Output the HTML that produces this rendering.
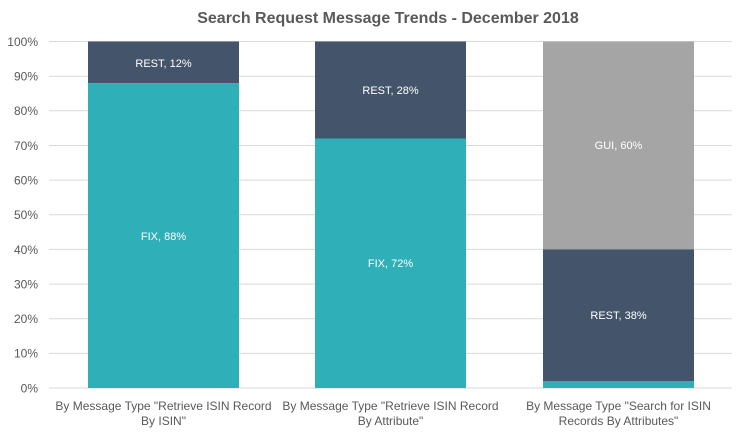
<!DOCTYPE html>
<html><head><meta charset="utf-8"><style>
html,body{margin:0;padding:0;background:#fff;}
svg{display:block;font-family:"Liberation Sans",sans-serif;}
</style></head><body>
<svg width="747" height="435" viewBox="0 0 747 435" xmlns="http://www.w3.org/2000/svg">
<rect width="747" height="435" fill="#fff"/>
<text x="388" y="23" text-anchor="middle" font-size="16" font-weight="bold" fill="#595959">Search Request Message Trends - December 2018</text>
<g stroke="#d9d9d9" stroke-width="1">
<line x1="49" x2="732" y1="41.5" y2="41.5"/>
<line x1="49" x2="732" y1="76.2" y2="76.2"/>
<line x1="49" x2="732" y1="110.8" y2="110.8"/>
<line x1="49" x2="732" y1="145.5" y2="145.5"/>
<line x1="49" x2="732" y1="180.1" y2="180.1"/>
<line x1="49" x2="732" y1="214.8" y2="214.8"/>
<line x1="49" x2="732" y1="249.4" y2="249.4"/>
<line x1="49" x2="732" y1="284.1" y2="284.1"/>
<line x1="49" x2="732" y1="318.7" y2="318.7"/>
<line x1="49" x2="732" y1="353.4" y2="353.4"/>
<line x1="49" x2="732" y1="388" y2="388"/>
</g>
<g font-size="12" fill="#595959" text-anchor="end">
<text x="38" y="46">100%</text>
<text x="38" y="80.5">90%</text>
<text x="38" y="115">80%</text>
<text x="38" y="150">70%</text>
<text x="38" y="184.5">60%</text>
<text x="38" y="219">50%</text>
<text x="38" y="254">40%</text>
<text x="38" y="288.5">30%</text>
<text x="38" y="323">20%</text>
<text x="38" y="357.5">10%</text>
<text x="38" y="392.5">0%</text>
</g>
<rect x="88" y="41.5" width="151" height="41.6" fill="#44546a"/>
<rect x="88" y="83.1" width="151" height="304.9" fill="#2fafb8"/>
<rect x="315" y="41.5" width="151" height="97" fill="#44546a"/>
<rect x="315" y="138.5" width="151" height="249.5" fill="#2fafb8"/>
<rect x="543" y="41.5" width="151" height="207.9" fill="#a5a5a5"/>
<rect x="543" y="249.4" width="151" height="131.7" fill="#44546a"/>
<rect x="543" y="381" width="151" height="7" fill="#2fafb8"/>
<g font-size="11" fill="#fff" text-anchor="middle">
<text x="163.5" y="67">REST, 12%</text>
<text x="163.5" y="240">FIX, 88%</text>
<text x="390.5" y="94">REST, 28%</text>
<text x="390.5" y="267">FIX, 72%</text>
<text x="618.5" y="149">GUI, 60%</text>
<text x="618.5" y="319">REST, 38%</text>
</g>
<g font-size="12" fill="#595959" text-anchor="middle">
<text x="163.5" y="410">By Message Type "Retrieve ISIN Record</text>
<text x="163.5" y="425">By ISIN"</text>
<text x="390.5" y="410">By Message Type "Retrieve ISIN Record</text>
<text x="390.5" y="425">By Attribute"</text>
<text x="618.5" y="410">By Message Type "Search for ISIN</text>
<text x="618.5" y="425">Records By Attributes"</text>
</g>
</svg>
</body></html>
